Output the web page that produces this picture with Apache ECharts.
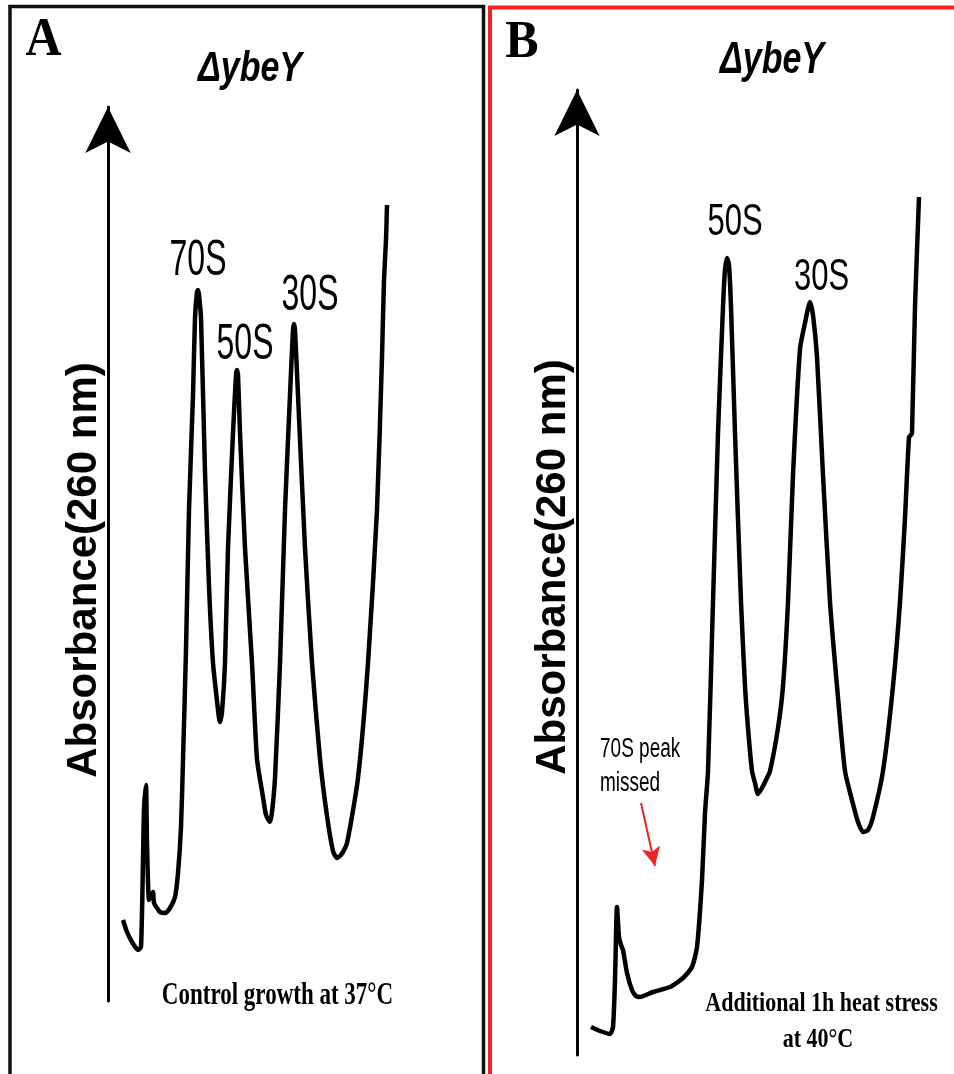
<!DOCTYPE html>
<html>
<head>
<meta charset="utf-8">
<script src="https://cdn.jsdelivr.net/npm/echarts@6/dist/echarts.min.js"></script>
<style>
    html, body { margin: 0; padding: 0; background: #fff; }
    #chart { width: 954px; height: 1074px; }
</style>
</head>
<body>
<div id="chart"></div>
<script>
// sucrose gradient profiles, [fraction position, A260] in arbitrary units
// panel A - control growth at 37°C
const traceA = [
    [1.5, 8.1], [1.9, 6.9], [2.4, 5.9], [3.0, 5.1], [3.3, 5.4], [3.5, 14.1], [3.6, 19.1],
    [3.8, 21.6], [3.9, 15.8], [4.1, 10.1], [4.3, 10.5], [4.5, 10.9], [4.6, 9.8], [4.9, 9.3],
    [5.2, 8.9], [5.7, 8.8], [6.2, 9.3], [6.7, 10.4], [7.0, 12.8], [7.3, 17.4], [7.5, 24.1],
    [7.8, 35.1], [8.1, 49.1], [8.5, 60.6], [8.7, 68.3], [8.9, 70.9], [9.0, 71.1], [9.1, 70.6],
    [9.3, 68.3], [9.7, 52.9], [10.1, 41.5], [10.5, 33.8], [10.9, 30.0], [11.1, 28.3], [11.2, 27.9],
    [11.4, 28.9], [11.7, 33.8], [12.0, 45.3], [12.5, 56.8], [12.8, 62.6], [12.9, 63.1], [13.0, 62.6],
    [13.2, 56.8], [13.7, 45.3], [14.4, 33.8], [14.9, 24.2], [15.5, 20.4], [15.8, 18.6], [16.2, 17.9],
    [16.4, 18.9], [16.7, 22.3], [17.2, 33.8], [17.7, 49.1], [18.2, 60.6], [18.5, 67.1], [18.6, 67.7],
    [18.7, 67.1], [19.0, 60.6], [19.7, 45.3], [20.4, 33.8], [21.2, 24.2], [21.9, 18.5], [22.5, 15.0],
    [22.9, 14.3], [23.3, 14.6], [23.9, 15.8], [25.0, 22.3], [26.0, 33.8], [26.9, 49.1], [27.4, 64.4],
    [27.6, 72.1], [27.8, 76.1], [27.9, 79.6]
];
// panel B - additional 1h heat stress at 40°C
const traceB = [
    [1.4, 2.8], [2.3, 2.4], [3.3, 2.1], [3.6, 2.8], [3.8, 7.5], [4.0, 14.8], [4.2, 11.8],
    [4.4, 11.0], [4.6, 10.5], [5.0, 8.2], [5.5, 6.5], [5.9, 5.9], [6.3, 5.8], [7.6, 6.3],
    [9.3, 6.8], [10.6, 7.7], [11.5, 8.8], [12.0, 10.8], [12.5, 17.5], [12.8, 24.2], [13.1, 28.4],
    [13.6, 45.3], [14.1, 62.2], [14.6, 74.8], [14.8, 78.5], [15.0, 79.7], [15.2, 79.0], [15.4, 74.8],
    [15.8, 62.2], [16.4, 45.3], [16.8, 36.9], [17.1, 32.7], [17.5, 28.4], [17.8, 27.2], [18.1, 26.1],
    [18.5, 26.7], [18.9, 27.5], [19.3, 28.4], [20.1, 32.7], [20.6, 36.9], [21.1, 45.3], [21.6, 58.0],
    [22.3, 70.6], [22.8, 73.2], [23.3, 75.3], [23.6, 74.0], [24.0, 69.8], [24.6, 58.0], [25.3, 45.3],
    [26.0, 36.9], [26.8, 28.4], [27.6, 25.1], [28.1, 23.3], [28.6, 22.3], [29.1, 22.5], [29.6, 23.8],
    [30.6, 28.4], [31.6, 36.9], [32.3, 45.3], [32.8, 53.7], [33.2, 61.8], [33.4, 62.0], [33.5, 62.2],
    [33.8, 74.8], [34.2, 85.8]
];

const peakNamesA = ['70S', '50S', '30S'];
const peakPosA = [9.0, 12.9, 18.6];
const peakNamesB = ['50S', '30S'];
const peakPosB = [15.0, 23.3];

// red pointer where the 70S peak should be
const missedArrowB = [[6.4, 25.2], [7.8, 18.9]];

const SANS = '"Liberation Sans", Arial, sans-serif';
const SERIF = '"Liberation Serif", "Times New Roman", serif';

const chart = echarts.init(document.getElementById('chart'));

function yAxisFor(gridIndex, max) {
    return {
        type: 'value',
        gridIndex: gridIndex,
        min: 0,
        max: max,
        axisLine: {
            show: true,
            onZero: false,
            symbol: ['none', 'arrow'],
            symbolSize: [34, 46],
            lineStyle: { color: '#000', width: 3 }
        },
        axisTick: { show: false },
        axisLabel: { show: false },
        splitLine: { show: false }
    };
}

function xAxisFor(gridIndex, max) {
    return { type: 'value', gridIndex: gridIndex, min: 0, max: max, show: false };
}

function trace(name, idx, data, extra) {
    return Object.assign({
        name: name,
        type: 'line',
        xAxisIndex: idx,
        yAxisIndex: idx,
        data: data,
        smooth: 0.2,
        showSymbol: false,
        silent: true,
        lineStyle: { color: '#000', width: 4.5 },
        itemStyle: { color: '#000' }
    }, extra || {});
}

chart.setOption({
    animation: false,
    backgroundColor: '#fff',
    grid: [
        { left: 108, top: 107, width: 300, height: 894, outerBoundsMode: 'none' },
        { left: 577, top: 90, width: 350, height: 965, outerBoundsMode: 'none' }
    ],
    xAxis: [xAxisFor(0, 30), xAxisFor(1, 35)],
    yAxis: [yAxisFor(0, 89.4), yAxisFor(1, 96.5)],
    series: [
        trace('A', 0, traceA),
        trace('B', 1, traceB, {
            markLine: {
                silent: true,
                symbol: ['none', 'arrow'],
                label: { show: false },
                lineStyle: { color: '#ec2327', width: 2, type: 'solid' },
                data: [[
                    { coord: missedArrowB[0], symbol: 'none' },
                    { coord: missedArrowB[1], symbol: 'arrow', symbolSize: [14, 19] }
                ]]
            }
        })
    ]
});

// text helper: texts in the figure are tall and narrow, so stretch vertically
function txt(text, x, y, font, sy, opts) {
    opts = opts || {};
    return {
        type: 'text',
        x: x,
        y: y,
        scaleY: sy,
        rotation: opts.rotation || 0,
        silent: true,
        z: 10,
        style: {
            text: text,
            font: font,
            fill: opts.fill || '#000',
            align: opts.align || 'center',
            verticalAlign: 'middle'
        }
    };
}

function peakLabels(names, pos, data, gridIndex, offsets, size, sy) {
    return names.map((n, i) => {
        const pt = data.find(d => d[0] === pos[i]);
        const px = chart.convertToPixel({ gridIndex: gridIndex }, pt);
        return txt(n, px[0] + offsets[i][0], px[1] + offsets[i][1], size + 'px ' + SANS, sy);
    });
}

const graphics = [
    // panel frames
    { type: 'rect', silent: true, shape: { x: 10, y: 6.5, width: 473.5, height: 1200 },
      style: { fill: null, stroke: '#111', lineWidth: 3.5 } },
    { type: 'rect', silent: true, shape: { x: 490, y: 7.5, width: 600, height: 1200 },
      style: { fill: null, stroke: '#ec2327', lineWidth: 4 } },

    txt('A', 43.5, 41, 'bold 50px ' + SERIF, 1.09),
    txt('B', 522, 43, 'bold 50px ' + SERIF, 1.06),
    txt('ΔybeY', 250, 69, 'italic bold 34px ' + SANS, 1.25),
    txt('ΔybeY', 772, 61, 'italic bold 34px ' + SANS, 1.32),

    txt('Absorbance(260 nm)', 84, 570, 'bold 42px ' + SANS, 1, { rotation: Math.PI / 2 }),
    txt('Absorbance(260 nm)', 553, 567, 'bold 42px ' + SANS, 1, { rotation: Math.PI / 2 }),

    txt('Control growth at 37°C', 277.5, 996, 'bold 23px ' + SERIF, 1.35),
    txt('Additional 1h heat stress', 821.5, 1004, 'bold 22px ' + SERIF, 1.25),
    txt('at 40°C', 818, 1040, 'bold 22px ' + SERIF, 1.25),

    txt('70S peak', 600, 749, '19px ' + SANS, 1.45, { align: 'left' }),
    txt('missed', 600, 783, '19px ' + SANS, 1.45, { align: 'left' })
]
    .concat(peakLabels(peakNamesA, peakPosA, traceA, 0, [[0, -28.5], [8, -25], [16, -27.5]], 32, 1.57))
    .concat(peakLabels(peakNamesB, peakPosB, traceB, 1, [[8, -35.5], [11.5, -24.5]], 31, 1.42));

chart.setOption({ graphic: graphics });
</script>
</body>
</html>
